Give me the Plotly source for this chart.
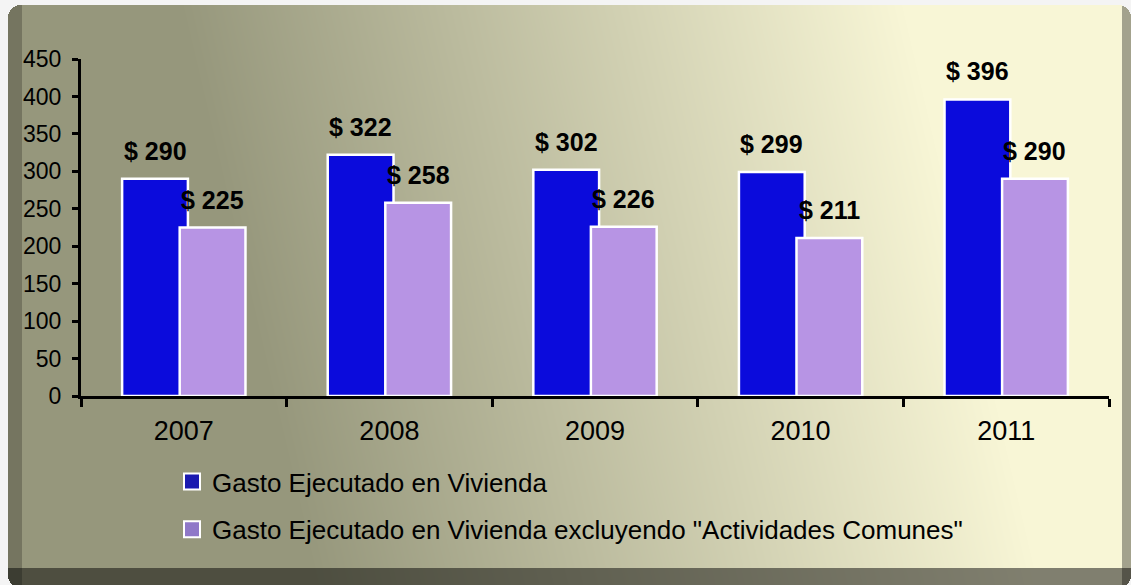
import numpy as np
import zlib, struct, base64
import plotly.graph_objects as go

# ---------------- data ----------------
years = ["2007", "2008", "2009", "2010", "2011"]
gasto_vivienda = [290, 322, 302, 299, 396]
gasto_sin_comunes = [225, 258, 226, 211, 290]
serie_1 = "Gasto Ejecutado en Vivienda"
serie_2 = 'Gasto Ejecutado en Vivienda excluyendo "Actividades Comunes"'
y_ticks = list(range(0, 451, 50))

# ---------------- background (gradient panel) ----------------
W, H = 1131, 585
ML, MR, MT, MB = 81, 22, 59, 189
PW, PH = W - ML - MR, H - MT - MB

yy, xx = np.mgrid[0:H, 0:W].astype(float)
xx += 0.5
yy += 0.5
c0 = np.array([150.0, 151.0, 124.0])
c1 = np.array([248.0, 246.0, 214.0])
s = (xx - 22) / 1100 + 0.12 * (0.5 - (yy - 5) / 563)
t = np.clip((s - 0.20) / (0.86 - 0.20), 0, 1)
face = c0 + (c1 - c0) * t[..., None]


def rr(x0, y0, x1, y1, r):
    m = (xx >= x0) & (xx < x1) & (yy >= y0) & (yy < y1)
    cx = np.clip(xx, x0 + r, x1 - r)
    cy = np.clip(yy, y0 + r, y1 - r)
    return m & ((xx - cx) ** 2 + (yy - cy) ** 2 <= r * r)


img = np.full((H, W, 3), 244.0)
outer = rr(8, 5, 1131, 588, 13)
inner = rr(22, 5, 1122, 568, 10)
side = face.copy()
side[xx < 22] *= 0.78
side[xx >= 1122] *= 0.66
side[yy >= 568] *= 0.52
img[outer] = side[outer]
img[inner] = face[inner]


def png_uri(a):
    a = np.clip(a, 0, 255).astype(np.uint8)
    h, w, _ = a.shape
    raw = b"".join(b"\x00" + a[i].tobytes() for i in range(h))

    def chunk(tag, data):
        return (struct.pack(">I", len(data)) + tag + data
                + struct.pack(">I", zlib.crc32(tag + data) & 0xFFFFFFFF))

    png = (b"\x89PNG\r\n\x1a\n"
           + chunk(b"IHDR", struct.pack(">IIBBBBB", w, h, 8, 2, 0, 0, 0))
           + chunk(b"IDAT", zlib.compress(raw, 9))
           + chunk(b"IEND", b""))
    return "data:image/png;base64," + base64.b64encode(png).decode()


bg_uri = png_uri(img)

# ---------------- figure ----------------
FONT = "Arial, Liberation Sans, sans-serif"
BLUE = "#0b0bdc"
PURPLE = "#b794e4"
BAR_W = 0.32
OFF_1, OFF_2 = -0.30, -0.02

fig = go.Figure()
fig.add_trace(go.Bar(x=years, y=gasto_vivienda, name=serie_1, width=BAR_W, offset=OFF_1,
                     marker=dict(color=BLUE, line=dict(color="white", width=2.5)),
                     showlegend=False))
fig.add_trace(go.Bar(x=years, y=gasto_sin_comunes, name=serie_2, width=BAR_W, offset=OFF_2,
                     marker=dict(color=PURPLE, line=dict(color="white", width=2.5)),
                     showlegend=False))
# legend entries
for nm, col, grp in [(serie_1, "#1a1ab0", "a"), (serie_2, "#8f78c8", "b")]:
    fig.add_trace(go.Scatter(x=[None], y=[None], mode="markers", name=nm, legendgroup=grp,
                             marker=dict(symbol="square", size=16, color=col,
                                         line=dict(color="white", width=2))))

# value labels (category axes use the category index for annotation positions)
annotations = []
for vals, off in [(gasto_vivienda, OFF_1), (gasto_sin_comunes, OFF_2)]:
    for i, v in enumerate(vals):
        annotations.append(dict(x=i + off + BAR_W / 2, y=v, xref="x", yref="y",
                                text=f"<b>&#36; {v}</b>", showarrow=False,
                                yshift=28, yanchor="middle", xanchor="center",
                                font=dict(family=FONT, size=25, color="black")))

fig.update_layout(
    width=W, height=H, autosize=False,
    margin=dict(l=ML, r=MR, t=MT, b=MB, pad=0),
    paper_bgcolor="#f4f4f4", plot_bgcolor="rgba(0,0,0,0)",
    barmode="overlay",
    font=dict(family=FONT, color="black"),
    annotations=annotations,
    images=[dict(source=bg_uri, xref="paper", yref="paper",
                 x=-ML / PW, y=1 + MT / PH, sizex=W / PW, sizey=H / PH,
                 xanchor="left", yanchor="top", sizing="stretch", layer="below")],
    legend=dict(x=(172 - ML) / PW, y=-(458 - (MT + PH)) / PH, xanchor="left", yanchor="top",
                orientation="v", bgcolor="rgba(0,0,0,0)", tracegroupgap=11,
                font=dict(family=FONT, size=26, color="black")),
    hovermode=False,
)
fig.update_xaxes(type="category", categoryorder="array", categoryarray=years,
                 range=[-0.5, len(years) - 0.5], tickson="boundaries",
                 ticks="outside", ticklen=8, tickwidth=3, tickcolor="black",
                 showline=True, linewidth=3, linecolor="black", showgrid=False,
                 ticklabelstandoff=9, tickfont=dict(family=FONT, size=27, color="black"))
fig.update_yaxes(range=[0, 450], tickvals=y_ticks, ticks="outside", ticklen=6, tickwidth=3,
                 tickcolor="black", showline=True, linewidth=3, linecolor="black",
                 showgrid=False, zeroline=False, ticklabelstandoff=6,
                 tickfont=dict(family=FONT, size=23, color="black"))

fig.write_html("out.html", config={"displayModeBar": False},
               post_script="document.body.style.margin='0';document.body.style.overflow='hidden';")
